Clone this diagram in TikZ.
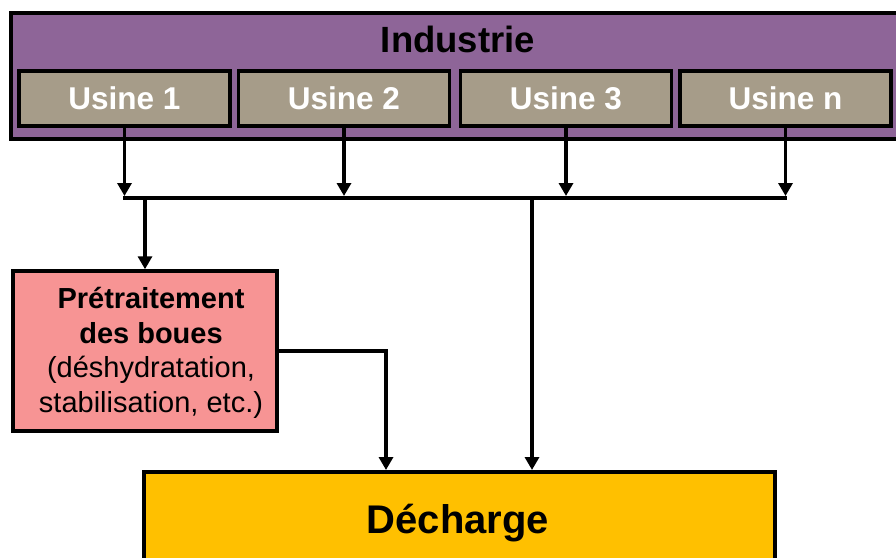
\documentclass[tikz,border=0pt]{standalone}
\usepackage{fontspec}
\setmainfont{Liberation Sans}
\usetikzlibrary{arrows.meta,calc}
\definecolor{indpurple}{RGB}{142,101,152}
\definecolor{usinegray}{RGB}{166,156,137}
\definecolor{presalmon}{RGB}{247,148,148}
\definecolor{dechyellow}{RGB}{255,192,0}
\tikzset{
  box/.style={draw=black, line width=3.5pt, rectangle, inner sep=0pt, line join=miter},
  usinebox/.style={box, fill=usinegray, minimum width=211pt, minimum height=55pt,
    text=white, font=\bfseries\fontsize{31.5}{36}\selectfont},
  arr/.style={line width=3.8pt, -{Triangle[width=14pt,length=13pt]}},
  busline/.style={line width=4.5pt},
}
\begin{document}
\begin{tikzpicture}[x=1pt,y=1pt]
\clip (0,0) rectangle (896,-557);
\fill[white] (0,0) rectangle (896,-557);
% Industrie
\node[box, fill=indpurple, minimum width=891pt, minimum height=126pt, anchor=north west] (ind) at (9,-11) {};
\node[anchor=base, font=\bfseries\fontsize{36.5}{42}\selectfont] (indlbl) at (458,-52) {Industrie};
% Usines
\node[usinebox] (u1) at (124.5,-98.5) {Usine 1};
\node[usinebox] (u2) at (344,-98.5) {Usine 2};
\node[usinebox] (u3) at (566,-98.5) {Usine 3};
\node[usinebox] (un) at (785.5,-98.5) {Usine n};
% bus
\coordinate (busL) at (123,-198);
\coordinate (busR) at (787,-198);
\draw[busline] (busL) -- (busR);
\foreach \u in {u1,u2,u3,un}{
  \draw[arr, shorten >=2pt] (\u.south) -- (\u.south |- busL);
}
% Pretraitement
\node[box, fill=presalmon, minimum width=264pt, minimum height=160pt] (pre) at (145,-351) {};
\node[align=center, font=\fontsize{29}{34.7}\selectfont, inner sep=0pt] (pretxt) at (151,-353)
  {\textbf{Prétraitement}\\\textbf{des boues}\\(déshydratation,\\stabilisation, etc.)};
% Decharge
\node[box, fill=dechyellow, minimum width=631pt, minimum height=130pt, anchor=north] (dech) at (459.5,-470) {};
\node[anchor=base, font=\bfseries\fontsize{40}{46}\selectfont] (dechlbl) at (458,-533) {Décharge};
% connectors
\draw[arr, line width=4pt] (pre.north |- busL) -- (pre.north);
\coordinate (d1) at (386,-470);
\coordinate (d2) at (532,-470);
\draw[arr] (pre.east) -| (d1);
\draw[arr] (d2 |- busL) -- (d2);
\end{tikzpicture}
\end{document}
